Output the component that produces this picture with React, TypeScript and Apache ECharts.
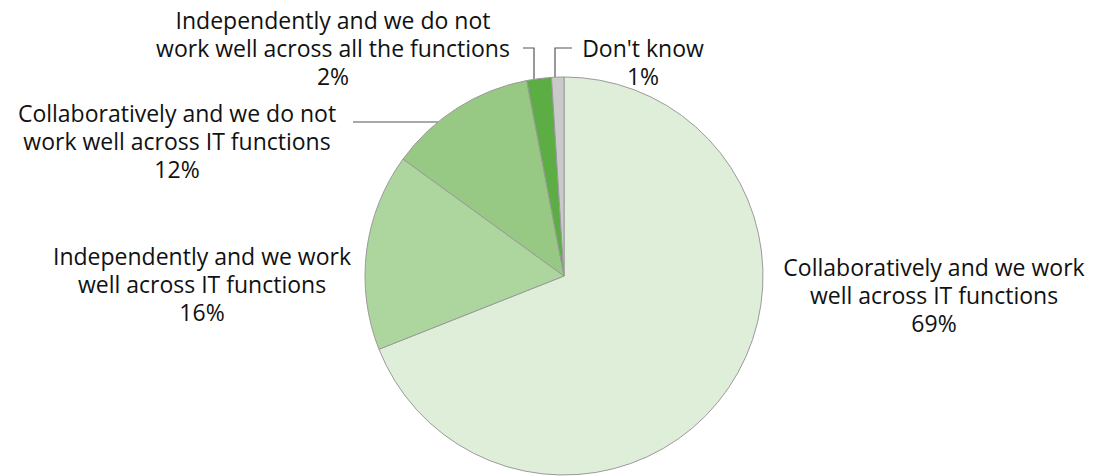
import React, { useEffect, useRef } from "react";
import * as echarts from "echarts";

const categories = [
  "Collaboratively and we work\nwell across IT functions",
  "Independently and we work\nwell across IT functions",
  "Collaboratively and we do not\nwork well across IT functions",
  "Independently and we do not\nwork well across all the functions",
  "Don't know",
];
const values = [69, 16, 12, 2, 1];
const colors = ["#dfeed9", "#acd69d", "#98c984", "#5cad44", "#cacaca"];

// layout constants
const CENTER = [564, 276];
const RADIUS = 199;
const LABEL_POS: number[][] = [
  [934, 295],
  [202, 284],
  [177, 141],
  [333, 48],
  [643, 62],
];

function arcYAtX(x: number) {
  const dx = x - CENTER[0];
  return CENTER[1] - Math.sqrt(RADIUS * RADIUS - dx * dx);
}
function arcXAtY(y: number) {
  const dy = y - CENTER[1];
  return CENTER[0] - Math.sqrt(RADIUS * RADIUS - dy * dy);
}

export default function App() {
  const ref = useRef<HTMLDivElement>(null);
  useEffect(() => {
    if (!ref.current) return;
    const chart = echarts.init(ref.current, undefined, { renderer: "svg" });
    const data = categories.map((name, i) => ({
      name,
      value: values[i],
      itemStyle: { color: colors[i] },
      labelLine: { show: i >= 2 },
    }));
    chart.setOption({
      animation: false,
      backgroundColor: "#ffffff",
      series: [
        {
          type: "pie",
          center: CENTER,
          radius: RADIUS,
          startAngle: 90,
          clockwise: true,
          silent: true,
          avoidLabelOverlap: false,
          emphasis: { disabled: true },
          itemStyle: { borderColor: "#9a9a9a", borderWidth: 1 },
          label: {
            show: true,
            position: "outside",
            formatter: "{b}\n{c}%",
            color: "#111111",
            fontSize: 23,
            fontFamily: "Open Sans",
            lineHeight: 28,
            align: "center",
          },
          labelLine: {
            show: true,
            lineStyle: { color: "#555555", width: 1.2 },
          },
          labelLayout: (params: any) => {
            const i = params.dataIndex;
            const [x, y] = LABEL_POS[i];
            const out: any = { x, y, align: "center", verticalAlign: "middle" };
            if (i === 2) {
              const ly = 122;
              const ax = arcXAtY(ly);
              out.labelLinePoints = [
                [ax, ly],
                [(ax + 353) / 2, ly],
                [353, ly],
              ];
            } else if (i === 3) {
              const ax = 534;
              out.labelLinePoints = [
                [ax, arcYAtX(ax)],
                [ax, 48],
                [ax - 11, 48],
              ];
            } else if (i === 4) {
              const ax = 555;
              out.labelLinePoints = [
                [ax, arcYAtX(ax)],
                [ax, 48],
                [ax + 17, 48],
              ];
            }
            return out;
          },
          data,
        },
      ],
    });
    return () => chart.dispose();
  }, []);
  return (
    <div
      ref={ref}
      style={{ position: "fixed", left: 0, top: 0, width: 1096, height: 476 }}
    />
  );
}
